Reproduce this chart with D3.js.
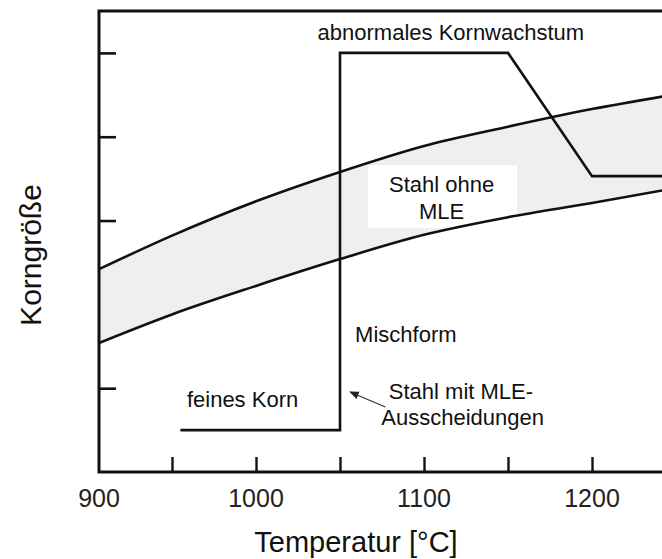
<!DOCTYPE html>
<html>
<head>
<meta charset="utf-8">
<script src="https://cdn.jsdelivr.net/npm/d3@7"></script>
<style>
  body { margin: 0; background: #fff; }
  text { font-family: "Liberation Sans", Arial, sans-serif; fill: #111; }
</style>
</head>
<body>
<div id="chart"></div>
<script>
// temperatures where the band was read
const temps = [900, 950, 1000, 1050, 1100, 1150, 1200, 1242];
// Stahl ohne MLE - upper and lower edge of the band (grain size, arbitrary units)
const bandUpper = [2.42, 2.82, 3.23, 3.58, 3.89, 4.12, 4.33, 4.48];
const bandLower = [1.54, 1.88, 2.22, 2.54, 2.83, 3.04, 3.21, 3.36];

// Stahl mit MLE-Ausscheidungen
const mleTemps = [955, 1050, 1050, 1150, 1200, 1242];
const mleSize  = [0.50, 0.50, 5.00, 5.00, 3.53, 3.53];

const xTicks = [950, 1000, 1050, 1100, 1150, 1200];
const xTickLabels = [900, 1000, 1100, 1200];
const yTicks = [1, 3, 4, 5];

const labels = [
  { text: "abnormales Kornwachstum", t: 1116, v: 5.15, anchor: "middle" },
  { text: "Stahl ohne", t: 1110.5, v: 3.34, anchor: "middle" },
  { text: "MLE", t: 1110.5, v: 3.02, anchor: "middle" },
  { text: "Mischform", t: 1059, v: 1.55, anchor: "start" },
  { text: "Stahl mit MLE-", t: 1122, v: 0.87, anchor: "middle" },
  { text: "Ausscheidungen", t: 1123, v: 0.56, anchor: "middle" },
  { text: "feines Korn", t: 992, v: 0.775, anchor: "middle" }
];

draw_chart();

function draw_chart() {
  const width = 662;
  const height = 559;

  const svg = d3.select("#chart")
    .append("svg")
    .attr("width", width)
    .attr("height", height);

  // the original temperature axis is not evenly spaced below 1000
  const x = d3.scaleLinear()
    .domain([900, 950, 1000, 1200])
    .range([99, 172, 256, 592]);

  const y = d3.scaleLinear()
    .domain([0, 5.5])
    .range([472, 11]);

  const band = temps.map((t, i) => ({ t: t, lo: bandLower[i], hi: bandUpper[i] }));
  const mle = mleTemps.map((t, i) => ({ t: t, v: mleSize[i] }));

  // grey band
  const area = d3.area()
    .x(d => x(d.t))
    .y0(d => y(d.lo))
    .y1(d => y(d.hi))
    .curve(d3.curveMonotoneX);

  svg.append("path")
    .attr("d", area(band))
    .attr("fill", "#efefef");

  // white box behind "Stahl ohne MLE"
  svg.append("rect")
    .attr("x", x(1066.7))
    .attr("y", y(3.66))
    .attr("width", x(1155.4) - x(1066.7))
    .attr("height", y(2.91) - y(3.66))
    .attr("fill", "#fff");

  const lineHi = d3.line().x(d => x(d.t)).y(d => y(d.hi)).curve(d3.curveMonotoneX);
  const lineLo = d3.line().x(d => x(d.t)).y(d => y(d.lo)).curve(d3.curveMonotoneX);

  svg.append("path")
    .attr("d", lineHi(band))
    .attr("fill", "none")
    .attr("stroke", "#111")
    .attr("stroke-width", 2.6);

  svg.append("path")
    .attr("d", lineLo(band))
    .attr("fill", "none")
    .attr("stroke", "#111")
    .attr("stroke-width", 2.6);

  const stepLine = d3.line().x(d => x(d.t)).y(d => y(d.v));

  svg.append("path")
    .attr("d", stepLine(mle))
    .attr("fill", "none")
    .attr("stroke", "#111")
    .attr("stroke-width", 2.6)
    .attr("stroke-linejoin", "miter");

  // axes (ticks point inward)
  const xAxis = svg.append("g")
    .attr("transform", `translate(0, ${y(0)})`)
    .call(d3.axisBottom(x)
      .tickValues(xTicks)
      .tickSize(-15)
      .tickFormat(""));
  xAxis.select(".domain").remove();
  xAxis.selectAll(".tick line").attr("stroke", "#111").attr("stroke-width", 2.4);

  const yAxis = svg.append("g")
    .attr("transform", `translate(${x(900)}, 0)`)
    .call(d3.axisLeft(y)
      .tickValues(yTicks)
      .tickSize(-17)
      .tickFormat(""));
  yAxis.select(".domain").remove();
  yAxis.selectAll(".tick line").attr("stroke", "#111").attr("stroke-width", 2.6);

  // frame: left, bottom and top lines
  svg.append("path")
    .attr("d", `M${width},${y(5.5)} H${x(900)} V${y(0)} H${width}`)
    .attr("fill", "none")
    .attr("stroke", "#111")
    .attr("stroke-width", 3);

  // tick labels
  svg.selectAll(".xlabel")
    .data(xTickLabels)
    .enter()
    .append("text")
    .attr("class", "xlabel")
    .attr("x", d => x(d))
    .attr("y", 507)
    .attr("text-anchor", "middle")
    .attr("font-size", 25)
    .style("fill", "#222")
    .text(d => d);

  // axis titles
  svg.append("text")
    .attr("x", 356)
    .attr("y", 552)
    .attr("text-anchor", "middle")
    .attr("font-size", 29)
    .text("Temperatur [°C]");

  svg.append("text")
    .attr("transform", "translate(41, 255) rotate(-90)")
    .attr("text-anchor", "middle")
    .attr("font-size", 30)
    .text("Korngröße");

  // annotations
  svg.selectAll(".note")
    .data(labels)
    .enter()
    .append("text")
    .attr("class", "note")
    .attr("x", d => x(d.t))
    .attr("y", d => y(d.v))
    .attr("text-anchor", d => d.anchor)
    .attr("font-size", 22)
    .text(d => d.text);

  // arrow to the MLE line
  svg.append("defs").append("marker")
    .attr("id", "head")
    .attr("viewBox", "0 0 10 10")
    .attr("refX", 9)
    .attr("refY", 5)
    .attr("markerWidth", 8)
    .attr("markerHeight", 8)
    .attr("orient", "auto")
    .append("path")
    .attr("d", "M0,1 L10,5 L0,9 Z")
    .attr("fill", "#222");

  svg.append("line")
    .attr("x1", x(1077))
    .attr("y1", y(0.775))
    .attr("x2", x(1056))
    .attr("y2", y(0.955))
    .attr("stroke", "#333")
    .attr("stroke-width", 1.2)
    .attr("marker-end", "url(#head)");
}
</script>
</body>
</html>
